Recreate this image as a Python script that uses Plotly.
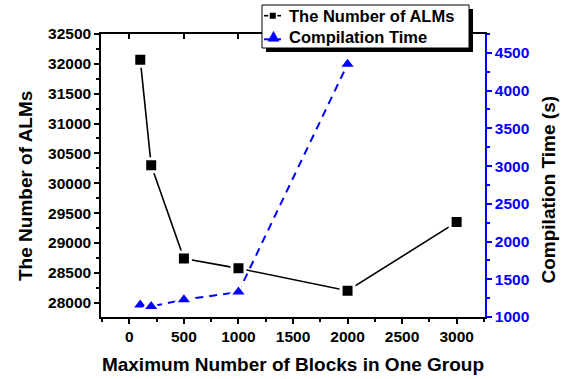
import plotly.graph_objects as go

# Grouping experiment: maximum blocks per group vs. resource use and build time
max_blocks = [100, 200, 500, 1000, 2000, 3000]
alm_count = [32070, 30300, 28740, 28575, 28200, 29350]

time_blocks = [100, 200, 500, 1000, 2000]
compile_time = [1160, 1140, 1230, 1330, 4350]

series_names = ["The Number of ALMs", "Compilation Time"]
axis_titles = ["Maximum Number of Blocks in One Group",
               "The Number of ALMs", "Compilation Time (s)"]

FONT = "Arial, Liberation Sans, sans-serif"
BLUE = "#0000FF"

W, H = 564, 379
ML, MR, MT, MB = 101, 79, 34, 62
PW, PH = W - ML - MR, H - MT - MB


def px(x):
    """Horizontal pixel position -> paper coordinate."""
    return (x - ML) / PW


def py(y):
    """Vertical pixel position (from top) -> paper coordinate."""
    return (H - MB - y) / PH


fig = go.Figure()

fig.add_trace(go.Scatter(
    x=max_blocks, y=alm_count, name=series_names[0],
    mode="lines+markers",
    line=dict(color="black", width=1.6),
    marker=dict(symbol="square", size=13, color="black",
                line=dict(color="white", width=3)),
    xaxis="x", yaxis="y", showlegend=False,
))

fig.add_trace(go.Scatter(
    x=time_blocks, y=compile_time, name=series_names[1],
    mode="lines+markers",
    line=dict(color=BLUE, width=2, dash="8px,6px"),
    marker=dict(symbol="triangle-up", size=15, color=BLUE,
                line=dict(color="white", width=2.5)),
    xaxis="x2", yaxis="y2", showlegend=False,
))

tick_font = dict(family=FONT, size=15.5, color="black", weight="bold")
title_font = dict(family=FONT, size=19, color="black", weight="bold")
legend_font = dict(family=FONT, size=16.5, color="black", weight="bold")

# Boxed key with a drop shadow, sitting across the top frame
box_l, box_r, box_t, box_b = 262, 469, 5, 48
shadow = 4
row_y = [15.7, 37.3]
sym_l, sym_r = 264, 281
text_x = 287

shapes = [
    dict(type="rect", xref="paper", yref="paper",
         x0=px(box_l + shadow), x1=px(box_r + shadow),
         y0=py(box_b + shadow), y1=py(box_t + shadow),
         fillcolor="black", line=dict(width=0), layer="above"),
    dict(type="rect", xref="paper", yref="paper",
         x0=px(box_l), x1=px(box_r), y0=py(box_b), y1=py(box_t),
         fillcolor="white", line=dict(color="black", width=1), layer="above"),
    # key 1: line with square
    dict(type="line", xref="paper", yref="paper",
         x0=px(sym_l), x1=px(sym_r), y0=py(row_y[0]), y1=py(row_y[0]),
         line=dict(color="black", width=1.6), layer="above"),
    dict(type="rect", xref="paper", yref="paper",
         x0=px(269), x1=px(276.5), y0=py(row_y[0] + 3.8), y1=py(row_y[0] - 3.8),
         fillcolor="black", line=dict(color="white", width=1.5), layer="above"),
    # key 2: dashed line with triangle
    dict(type="line", xref="paper", yref="paper",
         x0=px(sym_l), x1=px(sym_r), y0=py(row_y[1] + 2), y1=py(row_y[1] + 2),
         line=dict(color=BLUE, width=2), layer="above"),
    dict(type="path", xref="paper", yref="paper",
         path=(f"M {px(268):.5f},{py(row_y[1] + 4):.5f} "
               f"L {px(279):.5f},{py(row_y[1] + 4):.5f} "
               f"L {px(273.5):.5f},{py(row_y[1] - 6):.5f} Z"),
         fillcolor=BLUE, line=dict(color=BLUE, width=0.5), layer="above"),
]

annotations = [
    dict(text=name, xref="paper", yref="paper", x=px(text_x), y=py(ry),
         xanchor="left", yanchor="middle", showarrow=False, font=legend_font)
    for name, ry in zip(series_names, row_y)
]
# vertical axis titles
annotations += [
    dict(text=axis_titles[1], xref="paper", yref="paper",
         x=px(25.5), y=py(186.5), textangle=-90, showarrow=False,
         xanchor="center", yanchor="middle", font=title_font),
    dict(text=axis_titles[2], xref="paper", yref="paper",
         x=px(548), y=py(189.5), textangle=-90, showarrow=False,
         xanchor="center", yanchor="middle", font=title_font),
]

axis_common = dict(showgrid=False, zeroline=False, automargin=False)

fig.update_layout(
    width=W, height=H,
    margin=dict(l=ML, r=MR, t=MT, b=MB),
    paper_bgcolor="white", plot_bgcolor="white",
    showlegend=False,
    xaxis=dict(
        range=[-260, 3260], tick0=0, dtick=500,
        ticks="outside", ticklen=5, tickwidth=1.5, tickcolor="black",
        minor=dict(ticks="outside", ticklen=3, dtick=250, tick0=0,
                   tickcolor="black", tickwidth=1.5),
        showline=True, linecolor="black", linewidth=1.5,
        tickfont=tick_font, tickformat="d",
        title=dict(text=axis_titles[0], font=title_font, standoff=13),
        **axis_common,
    ),
    xaxis2=dict(
        matches="x", overlaying="x", side="top", anchor="y",
        ticks="inside", ticklen=5, tickwidth=1.5, tickcolor="black",
        tick0=0, dtick=500,
        showline=True, linecolor="black", linewidth=1.5,
        showticklabels=False,
        **axis_common,
    ),
    yaxis=dict(
        range=[27760, 32500], tick0=0, dtick=500,
        ticks="outside", ticklen=5, tickwidth=1.5, tickcolor="black",
        minor=dict(ticks="outside", ticklen=3, dtick=250, tick0=0,
                   tickcolor="black", tickwidth=1.5),
        showline=True, linecolor="black", linewidth=1.5,
        tickfont=tick_font, tickformat="d",
        **axis_common,
    ),
    yaxis2=dict(
        range=[1000, 4750], tick0=0, dtick=500,
        overlaying="y", side="right", anchor="x",
        ticks="outside", ticklen=5, tickwidth=1.5, tickcolor=BLUE,
        minor=dict(ticks="outside", ticklen=3, dtick=250, tick0=0,
                   tickcolor=BLUE, tickwidth=1.5),
        showline=True, linecolor=BLUE, linewidth=1.5,
        tickfont=dict(family=FONT, size=15.5, color=BLUE, weight="bold"),
        tickformat="d",
        **axis_common,
    ),
    shapes=shapes,
    annotations=annotations,
)

fig.write_html("out.html")
